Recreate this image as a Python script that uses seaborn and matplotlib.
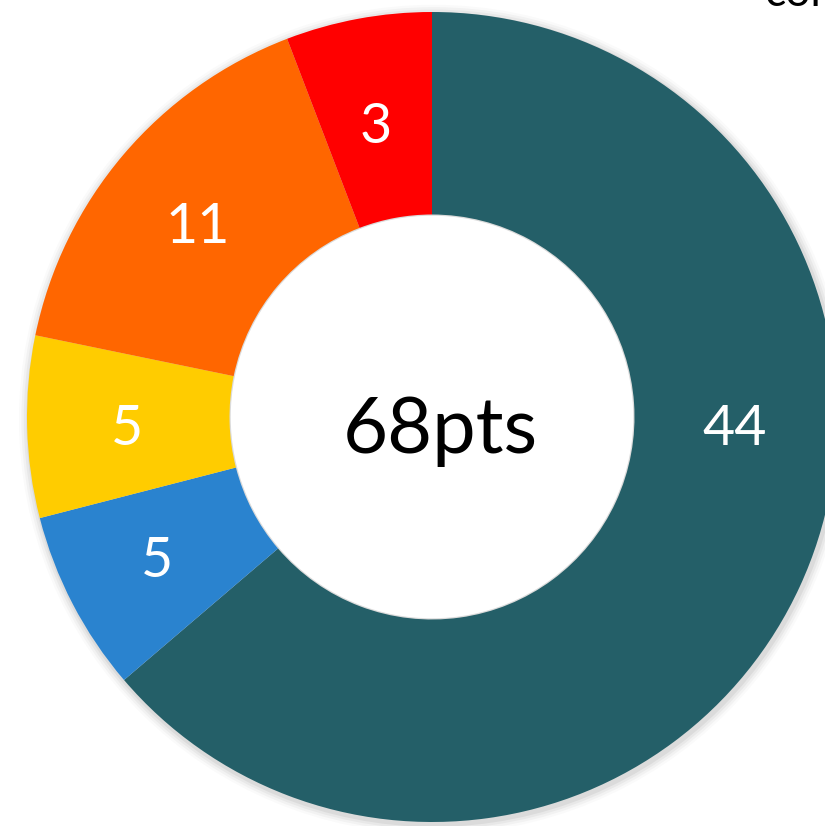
import matplotlib
matplotlib.use("Agg")
import matplotlib.pyplot as plt
import seaborn as sns

# donut data, clockwise from 12 o'clock
labels = ["44", "5", "5", "11", "3"]
# wedge sizes as drawn in the picture (they don't quite follow the labels)
shares = [43.35, 4.92, 4.93, 10.84, 3.96]
colors = ["#245F68", "#2A83CF", "#FFCC00", "#FF6600", "#FF0000"]
total_label = "68pts"
corner_text = "con"

# where the value labels sit (data units, pie radius = 1)
label_pos = [(0.748, -0.032), (-0.679, -0.358), (-0.753, -0.032),
             (-0.578, 0.467), (-0.138, 0.714)]

sns.set_theme(style="white")
plt.rcParams["font.family"] = ["Lato", "DejaVu Sans"]

fig = plt.figure(figsize=(8.25, 8.26), dpi=100)
ax = fig.add_axes([0, 0, 1, 1])

# soft shadow behind the ring
for i, a in enumerate([0.05, 0.04, 0.03, 0.02]):
    ax.add_patch(plt.Circle((0.004, -0.006), 1.0 + 0.006 * (i + 1),
                            color="black", alpha=a, lw=0, zorder=0))

wedges, texts = ax.pie(shares, colors=colors, startangle=90, counterclock=False,
                       labels=labels, labeldistance=0.75,
                       wedgeprops=dict(width=0.5, linewidth=0),
                       textprops=dict(color="white", fontsize=40,
                                      ha="center", va="center"))
for w in wedges:
    w.set_zorder(2)
for t, p in zip(texts, label_pos):
    t.set_position(p)
    t.set_zorder(3)

# white hole
ax.add_patch(plt.Circle((0, 0), 0.497, color="white", lw=0, zorder=2.5))
ax.text(0.02, -0.037, total_label, fontsize=56, color="black",
        ha="center", va="center", zorder=3)

ax.set_aspect("auto")
ax.set_xlim(-432 / 405, 393 / 405)
ax.set_ylim(-409 / 405, 417 / 405)
ax.axis("off")

fig.text(764 / 825, 1 - 6 / 826, corner_text, fontsize=32, color="black",
         ha="left", va="baseline")

fig.savefig("out.png", dpi=100, facecolor="white")
